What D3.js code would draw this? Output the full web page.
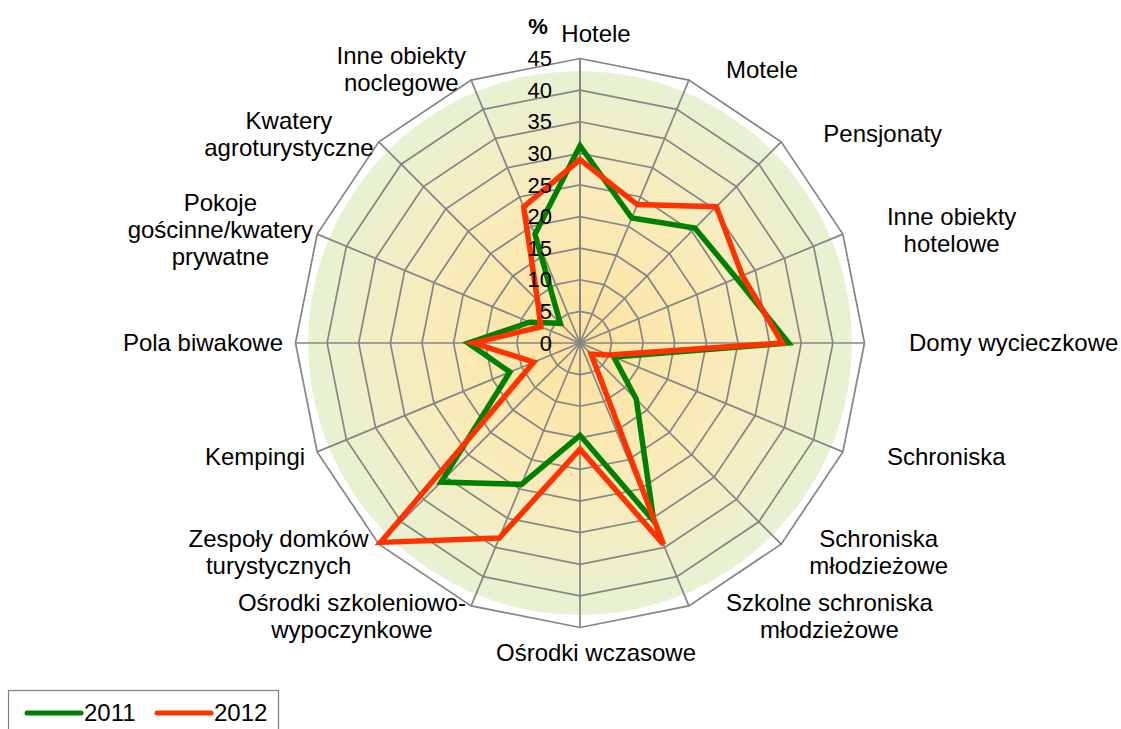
<!DOCTYPE html>
<html>
<head>
<meta charset="utf-8">
<script src="https://cdn.jsdelivr.net/npm/d3@7"></script>
<style>
  html, body { margin: 0; padding: 0; background: #fff; }
  svg { display: block; }
</style>
</head>
<body>
<svg id="chart" width="1121" height="729"></svg>
<script>
// Chart data
const categories = [
    "Hotele", "Motele", "Pensjonaty", "Inne obiekty\nhotelowe", "Domy wycieczkowe",
    "Schroniska", "Schroniska\nmłodzieżowe", "Szkolne schroniska\nmłodzieżowe",
    "Ośrodki wczasowe", "Ośrodki szkoleniowo-\nwypoczynkowe", "Zespoły domków\nturystycznych",
    "Kempingi", "Pola biwakowe", "Pokoje\ngościnne/kwatery\nprywatne",
    "Kwatery\nagroturystyczne", "Inne obiekty\nnoclegowe"
];
const values2011 = [31.2, 21.4, 25.7, 26.8, 33.0, 5.8, 12.6, 30.5, 14.6, 24.2, 31.1, 12.0, 17.7, 8.6, 4.4, 18.6];
const values2012 = [29.0, 23.7, 30.5, 27.8, 32.0, 5.0, 2.5, 34.5, 16.8, 33.4, 44.6, 7.9, 16.8, 6.7, 9.5, 23.3];
const seriesNames = ["2011", "2012"];
const tickValues = [0, 5, 10, 15, 20, 25, 30, 35, 40, 45];

const font_family = "Arial, 'Liberation Sans', sans-serif";
const tick_fontSize = 22;
const label_fontSize = 24;
const colors = { "2011": "#008000", "2012": "#ff3300" };
const gridColor = "#858585";

const svg = d3.select("#chart");
const cx = 580, cy = 343;
const R = 284.5;

const rScale = d3.scaleLinear().domain([0, 45]).range([0, R]);
const aScale = d3.scaleLinear().domain([0, categories.length]).range([0, 2 * Math.PI]);

// Background radial gradient
const defs = svg.append("defs");
const grad = defs.append("radialGradient").attr("id", "bg-grad")
    .attr("cx", "50%").attr("cy", "50%").attr("r", "50%");
grad.append("stop").attr("offset", "0%").attr("stop-color", "#fde2a0");
grad.append("stop").attr("offset", "55%").attr("stop-color", "#f9ebba");
grad.append("stop").attr("offset", "100%").attr("stop-color", "#e6f2d3");

const g = svg.append("g").attr("transform", `translate(${cx},${cy})`);

g.append("circle")
    .attr("r", rScale(43))
    .attr("fill", "url(#bg-grad)");

// Grid rings
const ringLine = d3.lineRadial()
    .angle((d, i) => aScale(i))
    .radius(d => rScale(d))
    .curve(d3.curveLinearClosed);

g.selectAll(".ring")
    .data(tickValues.filter(t => t > 0))
    .enter().append("path")
    .attr("class", "ring")
    .attr("d", t => ringLine(categories.map(() => t)))
    .attr("fill", "none")
    .attr("stroke", gridColor)
    .attr("stroke-width", 1.7);

// Spokes
g.selectAll(".spoke")
    .data(categories)
    .enter().append("line")
    .attr("class", "spoke")
    .attr("x1", 0).attr("y1", 0)
    .attr("x2", (d, i) => rScale(45) * Math.sin(aScale(i)))
    .attr("y2", (d, i) => -rScale(45) * Math.cos(aScale(i)))
    .attr("stroke", gridColor)
    .attr("stroke-width", (d, i) => i === 0 ? 2 : 1.7);

// Series
const seriesLine = d3.lineRadial()
    .angle((d, i) => aScale(i))
    .radius(d => rScale(d))
    .curve(d3.curveLinearClosed);

[values2011, values2012].forEach((vals, k) => {
    g.append("path")
        .attr("d", seriesLine(vals))
        .attr("fill", "none")
        .attr("stroke", colors[seriesNames[k]])
        .attr("stroke-width", 5.5)
        .attr("stroke-linejoin", "miter")
        .attr("stroke-miterlimit", 4);
});

// Tick labels
g.selectAll(".tick-label")
    .data(tickValues)
    .enter().append("text")
    .attr("x", -28)
    .attr("y", t => -rScale(t))
    .attr("dy", "0.35em")
    .attr("text-anchor", "end")
    .attr("font-family", font_family)
    .attr("font-size", tick_fontSize)
    .attr("fill", "#000")
    .text(t => t);

svg.append("text")
    .attr("x", 538)
    .attr("y", 26)
    .attr("dy", "0.35em")
    .attr("text-anchor", "middle")
    .attr("font-family", font_family)
    .attr("font-size", tick_fontSize)
    .attr("font-weight", "bold")
    .text("%");

// Category labels (Excel-like placement around a slightly shifted centre)
const labelCx = cx + 16;
const lineH = 27;
const labelNudge = { 6: -14, 13: 8, 14: 5 };
categories.forEach((name, i) => {
    const a = aScale(i);
    const s = Math.sin(a), c = Math.cos(a);
    const lines = name.split("\n");
    const h = lines.length * lineH;
    const t = svg.append("text")
        .attr("font-family", font_family)
        .attr("font-size", label_fontSize)
        .attr("fill", "#000")
        .attr("text-anchor", "middle");
    const spans = lines.map(l => t.append("tspan").text(l));
    const w = d3.max(spans, sp => sp.node().getComputedTextLength());
    let bx, by;
    if (Math.abs(s) < 0.01) {
        bx = labelCx;
        by = cy - c * (296 + h / 2);
    } else {
        const edge = labelCx + 313 * s + Math.sign(s) * 12 * c * c;
        bx = s > 0 ? edge + w / 2 : edge - w / 2;
        by = cy - 296 * c;
    }
    bx += labelNudge[i] || 0;
    spans.forEach((sp, j) => {
        sp.attr("x", bx)
            .attr("y", by + (j - (lines.length - 1) / 2) * lineH)
            .attr("dy", "0.35em");
    });
});

// Legend
const legend = svg.append("g");
legend.append("rect")
    .attr("x", 8.5).attr("y", 690.5)
    .attr("width", 270).attr("height", 60)
    .attr("fill", "#fff")
    .attr("stroke", "#7f7f7f")
    .attr("stroke-width", 1.2);

const legendItems = legend.selectAll(".legend-item")
    .data(seriesNames)
    .enter().append("g")
    .attr("transform", (d, i) => `translate(${27 + i * 130}, 713)`);

legendItems.append("line")
    .attr("x1", 0).attr("x2", 54)
    .attr("y1", 0).attr("y2", 0)
    .attr("stroke", d => colors[d])
    .attr("stroke-width", 5)
    .attr("stroke-linecap", "round");

legendItems.append("text")
    .attr("x", 57)
    .attr("dy", "0.35em")
    .attr("font-family", font_family)
    .attr("font-size", label_fontSize)
    .text(d => d);
</script>
</body>
</html>
